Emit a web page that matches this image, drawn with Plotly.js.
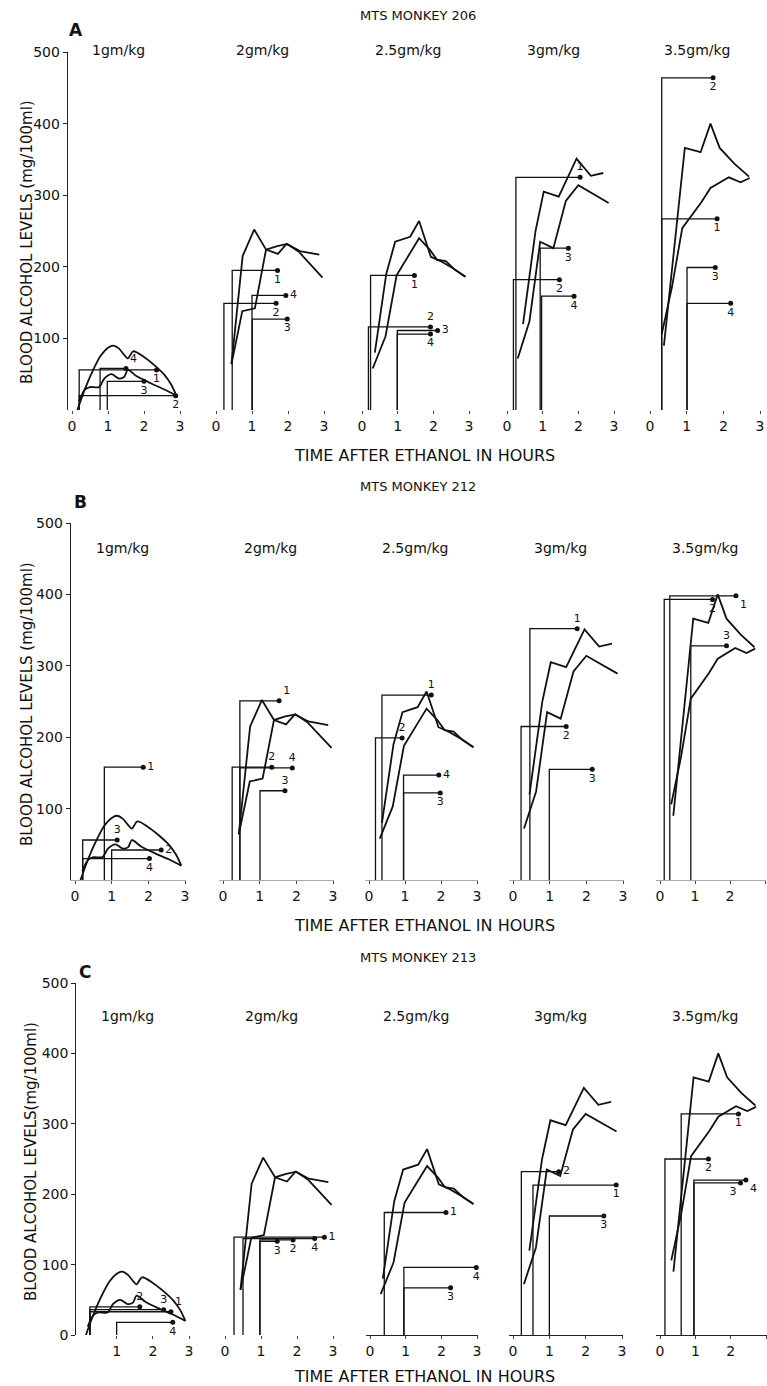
<!DOCTYPE html>
<html><head><meta charset="utf-8">
<script src="https://cdn.plot.ly/plotly-3.0.1.min.js"></script>
<style>html,body{margin:0;padding:0;background:#fff}</style>
</head><body><div id="chart" style="width:767px;height:1386px"></div>
<script>
// ================= DATA =================
const monkeys = ["MTS MONKEY 206", "MTS MONKEY 212", "MTS MONKEY 213"];
const panelLetters = ["A", "B", "C"];
const doses = ["1gm/kg", "2gm/kg", "2.5gm/kg", "3gm/kg", "3.5gm/kg"];
const yAxisTitle = ["BLOOD ALCOHOL LEVELS (mg/100ml)", "BLOOD ALCOHOL LEVELS (mg/100ml)", "BLOOD ALCOHOL LEVELS(mg/100ml)"];
const xAxisTitle = "TIME AFTER ETHANOL IN HOURS";
const xTickVals = [0, 1, 2, 3];
const xTickValsC1 = [1, 2, 3];
const yTickVals = [100, 200, 300, 400, 500];
const yTickValsC = [0, 100, 200, 300, 400, 500];

// Blood alcohol curves (hours, mg/100ml) - two curves per dose
const d1_a_t = [0.15, 0.35, 0.55, 0.8, 1.0, 1.15, 1.3, 1.45, 1.55, 1.7, 2.0, 2.3, 2.55, 2.75, 2.9];
const d1_a_v = [0, 28, 52, 76, 87, 90, 86, 77, 72, 82, 74, 62, 50, 36, 20];
const d1_b_t = [0.2, 0.35, 0.5, 0.75, 0.9, 1.1, 1.3, 1.45, 1.55, 1.8, 2.2, 2.6, 2.9];
const d1_b_v = [12, 28, 32, 32, 44, 50, 44, 46, 56, 47, 37, 28, 20];

const d2_a_t = [0.43, 0.74, 1.06, 1.39, 1.72, 1.96, 2.33, 2.87];
const d2_a_v = [64, 215, 252, 224, 218, 232, 222, 217];
const d2_b_t = [0.43, 0.73, 1.08, 1.39, 1.7, 1.98, 2.3, 2.6, 2.96];
const d2_b_v = [64, 138, 142, 224, 229, 232, 221, 205, 185];

const d3_a_t = [0.36, 0.68, 0.93, 1.35, 1.6, 1.93, 2.2, 2.55, 2.9];
const d3_a_v = [80, 190, 235, 242, 264, 214, 208, 198, 186];
const d3_b_t = [0.3, 0.66, 0.97, 1.6, 1.9, 2.1, 2.35, 2.6, 2.9];
const d3_b_v = [58, 103, 188, 240, 224, 210, 208, 196, 186];

const d4_a_t = [0.45, 0.8, 1.03, 1.45, 1.95, 2.35, 2.7];
const d4_a_v = [120, 250, 305, 298, 351, 327, 331];
const d4_b_t = [0.3, 0.63, 0.93, 1.3, 1.65, 2.0, 2.85];
const d4_b_v = [72, 124, 235, 226, 292, 314, 289];

const d5_a_t = [0.38, 0.95, 1.38, 1.65, 1.9, 2.3, 2.7];
const d5_a_v = [90, 366, 360, 400, 366, 344, 326];
const d5_b_t = [0.32, 0.6, 0.88, 1.4, 1.65, 2.15, 2.47, 2.72];
const d5_b_v = [106, 172, 254, 290, 310, 325, 318, 324];

// Brackets per monkey & dose: onset (h), level (mg/100ml), end (h), id
const m206_id = [["1","2","3","4"], ["1","2","3","4"], ["1","2","3","4"], ["1","2","3","4"], ["1","2","3","4"]];
const m206_onset = [[0.2,0.2,0.98,0.78], [0.45,0.22,1.01,1.0], [0.24,0.18,0.99,0.99], [0.25,0.18,0.93,0.97], [0.32,0.32,1.01,1.01]];
const m206_level = [[56,20,40,58], [195,149,127,160], [188,116,111,106], [325,182,226,159], [267,464,199,149]];
const m206_end = [[2.35,2.88,2.0,1.5], [1.71,1.67,1.98,1.94], [1.47,1.92,2.12,1.92], [2.05,1.47,1.72,1.88], [1.83,1.72,1.78,2.2]];

const m212_id = [["1","2","3","4"], ["1","2","3","4"], ["1","2","3","4"], ["1","2","3"], ["1","2","3"]];
const m212_onset = [[0.8,1.0,0.21,0.21], [0.46,0.25,1.01,0.46], [0.36,0.18,0.96,0.96], [0.46,0.22,0.99], [0.28,0.12,0.88]];
const m212_level = [[158,42,56,30], [251,158,125,157], [259,199,122,147], [352,215,155], [398,393,328]];
const m212_end = [[1.86,2.35,1.15,2.03], [1.53,1.33,1.69,1.89], [1.73,0.92,1.98,1.94], [1.75,1.45,2.16], [2.17,1.5,1.9]];

const m213_id = [["1","2","3","4"], ["1","2","3","4"], ["1","3","4"], ["1","2","3"], ["1","2","3","4"]];
const m213_onset = [[0.26,0.26,0.26,1.0], [0.25,0.97,0.97,0.5], [0.4,0.95,0.95], [0.55,0.23,1.0], [0.6,0.14,0.96,0.96]];
const m213_level = [[33,40,36,18], [139,135,133,137], [174,67,96], [213,232,169], [314,250,216,220]];
const m213_end = [[2.5,1.64,2.3,2.55], [2.76,1.89,1.45,2.49], [2.13,2.26,2.98], [2.84,1.26,2.5], [2.22,1.37,2.28,2.43]];

// ================= STYLE / LAYOUT =================
const curveT = [[d1_a_t, d1_b_t], [d2_a_t, d2_b_t], [d3_a_t, d3_b_t], [d4_a_t, d4_b_t], [d5_a_t, d5_b_t]];
const curveV = [[d1_a_v, d1_b_v], [d2_a_v, d2_b_v], [d3_a_v, d3_b_v], [d4_a_v, d4_b_v], [d5_a_v, d5_b_v]];
const curveShape = ["spline", "linear", "linear", "linear", "linear"];
const brId = [m206_id, m212_id, m213_id];
const brOn = [m206_onset, m212_onset, m213_onset];
const brLv = [m206_level, m212_level, m213_level];
const brEnd = [m206_end, m212_end, m213_end];
const labPos = [
  [["bottom center","bottom center","bottom center","top right"], ["bottom center","bottom center","bottom center","middle right"], ["bottom center","top center","middle right","bottom center"], ["top center","bottom center","bottom center","bottom center"], ["bottom center","bottom center","bottom center","bottom center"]],
  [["middle right","middle right","top center","bottom center"], ["top right","top center","top center","top center"], ["top center","top center","bottom center","middle right"], ["top center","bottom center","bottom center"], ["bottom right","bottom center","top center"]],
  [["top right","top center","top center","bottom center"], ["middle right","bottom center","bottom center","bottom center"], ["middle right","bottom center","bottom center"], ["bottom center","middle right","bottom center"], ["bottom center","bottom center","bottom left","bottom right"]]
];
const geom = [
  {y0: 410, y500: 52, x0: [72, 216, 362, 507, 650], x3: [180, 324, 469, 614, 760], titleY: 16, letter: [76, 30], doseY: 50, xTitleY: 456, yTitle: [27, 242]},
  {y0: 880, y500: 523, x0: [75, 223, 369, 513, 660], x3: [185, 333, 477, 623, 765], titleY: 486, letter: [80, 502], doseY: 548, xTitleY: 925, yTitle: [27, 704]},
  {y0: 1335, y500: 983, x0: [80.5, 225, 370, 513, 660], x3: [189, 333, 477, 622, 766], titleY: 957, letter: [85, 972], doseY: 1016, xTitleY: 1376, yTitle: [31, 1162]}
];
const showXLine = [[0,0,0,0,0], [1,1,1,1,1], [0,0,1,1,1]];
const xLineColor = ["#000", "#aaa", "#222"];
const W = 767, H = 1386;
const XMIN = -0.12, XMAX = 3.02;
const INK = "#111";
const FONT = "DejaVu Sans, Arial, sans-serif";

const traces = [];
const layout = {
  width: W, height: H, margin: {l: 0, r: 0, t: 0, b: 0},
  showlegend: false, paper_bgcolor: "#fff", plot_bgcolor: "rgba(0,0,0,0)",
  font: {family: FONT, color: INK, size: 14},
  annotations: []
};
const px = v => v / W;
const py = v => 1 - v / H;

for (let r = 0; r < 3; r++) {
  const g = geom[r];
  for (let c = 0; c < 5; c++) {
    const k = r * 5 + c + 1;
    const xn = k === 1 ? "x" : "x" + k;
    const yn = k === 1 ? "y" : "y" + k;
    const pph = (g.x3[c] - g.x0[c]) / 3;
    const xmax = Math.min(XMAX, (W - 0.2 - g.x0[c]) / pph);
    const xt = (r === 2 && c === 0) ? xTickValsC1 : xTickVals;
    layout["xaxis" + (k === 1 ? "" : k)] = {
      domain: [px(g.x0[c] + XMIN * pph), px(g.x0[c] + xmax * pph)],
      range: [XMIN, xmax], anchor: yn, fixedrange: true,
      showgrid: false, zeroline: false,
      showline: !!showXLine[r][c], linecolor: xLineColor[r], linewidth: 1,
      tickmode: "array", tickvals: xt, ticktext: xt.map(String),
      ticks: "outside", ticklen: 3, tickcolor: "#444", tickwidth: 1,
      tickfont: {family: FONT, size: 14, color: INK}
    };
    const yTicks = r === 2 ? yTickValsC : yTickVals;
    layout["yaxis" + (k === 1 ? "" : k)] = {
      domain: [py(g.y0), py(g.y500)], range: [0, 500], anchor: xn, fixedrange: true,
      showgrid: false, zeroline: false,
      showline: c === 0, linecolor: "#222", linewidth: 1,
      showticklabels: c === 0,
      tickmode: "array", tickvals: yTicks, ticktext: yTicks.map(String),
      ticks: c === 0 ? "outside" : "", ticklen: 4, tickcolor: "#222",
      tickfont: {family: FONT, size: 14, color: INK}
    };
    // curves
    for (let j = 0; j < 2; j++) {
      traces.push({
        type: "scatter", mode: "lines", xaxis: xn, yaxis: yn,
        x: curveT[c][j], y: curveV[c][j], hoverinfo: "skip",
        line: {color: INK, width: 1.8, shape: curveShape[c], smoothing: 0.8}
      });
    }
    // brackets
    const on = brOn[r][c], lv = brLv[r][c], en = brEnd[r][c], ids = brId[r][c];
    const bx = [], by = [];
    for (let i = 0; i < on.length; i++) {
      bx.push(on[i], on[i], en[i], null);
      by.push(0, lv[i], lv[i], null);
    }
    traces.push({
      type: "scatter", mode: "lines", xaxis: xn, yaxis: yn, x: bx, y: by,
      hoverinfo: "skip", line: {color: INK, width: 1.3}
    });
    traces.push({
      type: "scatter", mode: "markers+text", xaxis: xn, yaxis: yn,
      x: en, y: lv, text: ids, textposition: labPos[r][c], cliponaxis: false,
      hoverinfo: "skip", marker: {color: INK, size: 5},
      textfont: {family: FONT, size: 11, color: INK}
    });
    // dose label
    layout.annotations.push({
      xref: "paper", yref: "paper", x: px(g.x0[c] + 1.3 * pph), y: py(g.doseY),
      text: doses[c], showarrow: false, xanchor: "center", yanchor: "middle",
      font: {family: FONT, size: 14, color: INK}
    });
  }
  // panel titles & letters
  layout.annotations.push({
    xref: "paper", yref: "paper", x: px(418), y: py(g.titleY), text: monkeys[r],
    showarrow: false, xanchor: "center", yanchor: "middle", font: {family: FONT, size: 13, color: INK}
  });
  layout.annotations.push({
    xref: "paper", yref: "paper", x: px(g.letter[0]), y: py(g.letter[1]), text: "<b>" + panelLetters[r] + "</b>",
    showarrow: false, xanchor: "center", yanchor: "middle", font: {family: FONT, size: 17, color: INK}
  });
  layout.annotations.push({
    xref: "paper", yref: "paper", x: px(425), y: py(g.xTitleY), text: xAxisTitle,
    showarrow: false, xanchor: "center", yanchor: "middle", font: {family: FONT, size: 16, color: INK}
  });
  layout.annotations.push({
    xref: "paper", yref: "paper", x: px(g.yTitle[0]), y: py(g.yTitle[1]), text: yAxisTitle[r],
    showarrow: false, textangle: -90, xanchor: "center", yanchor: "middle", font: {family: FONT, size: 15, color: INK}
  });
}

Plotly.newPlot("chart", traces, layout, {staticPlot: true, displayModeBar: false});
</script>
</body></html>
